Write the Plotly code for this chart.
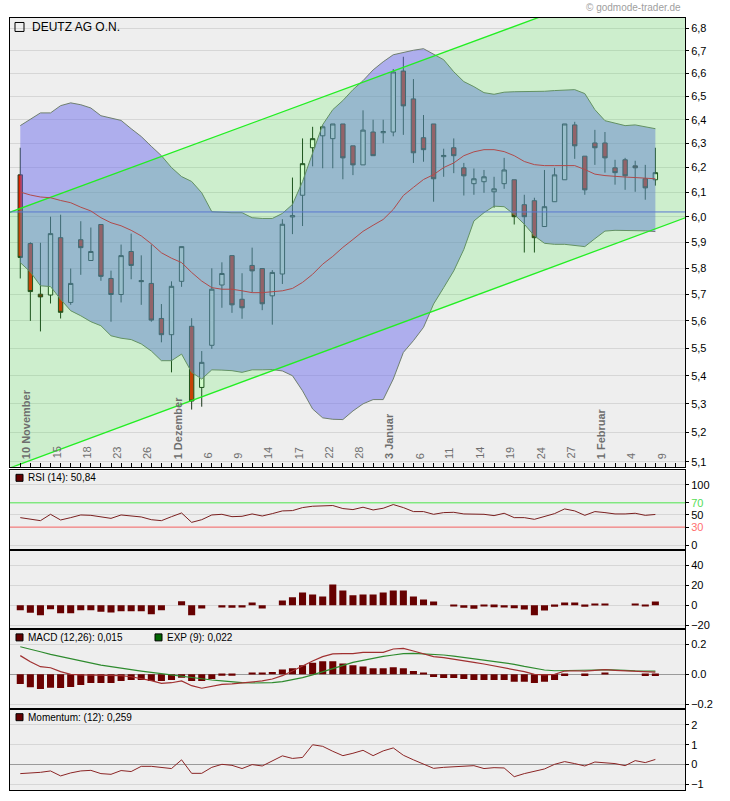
import math
import plotly.graph_objects as go

# ---------------- data ----------------
dates = ["2010-11-10", "2010-11-11", "2010-11-12", "2010-11-15", "2010-11-16", "2010-11-17", "2010-11-18",
         "2010-11-19", "2010-11-22", "2010-11-23", "2010-11-24", "2010-11-25", "2010-11-26", "2010-11-29",
         "2010-11-30", "2010-12-01", "2010-12-02", "2010-12-03", "2010-12-06", "2010-12-07", "2010-12-08",
         "2010-12-09", "2010-12-10", "2010-12-13", "2010-12-14", "2010-12-15", "2010-12-16", "2010-12-17",
         "2010-12-20", "2010-12-21", "2010-12-22", "2010-12-23", "2010-12-27", "2010-12-28", "2010-12-29",
         "2010-12-30", "2011-01-03", "2011-01-04", "2011-01-05", "2011-01-06", "2011-01-07", "2011-01-10",
         "2011-01-11", "2011-01-12", "2011-01-13", "2011-01-14", "2011-01-17", "2011-01-18", "2011-01-19",
         "2011-01-20", "2011-01-21", "2011-01-24", "2011-01-25", "2011-01-26", "2011-01-27", "2011-01-28",
         "2011-01-31", "2011-02-01", "2011-02-02", "2011-02-03", "2011-02-04", "2011-02-07", "2011-02-08",
         "2011-02-09"]

open_ = [6.170, 5.895, 5.700, 5.697, 5.918, 5.669, 5.910, 5.829, 5.970, 5.760, 5.699, 5.864, 5.752, 5.741,
         5.609, 5.549, 5.749, 5.580, 5.358, 5.510, 5.735, 5.848, 5.681, 5.810, 5.798, 5.694, 5.777, 6.000,
         6.087, 6.282, 6.332, 6.320, 6.382, 6.290, 6.211, 6.348, 6.345, 6.348, 6.610, 6.489, 6.324, 6.382,
         6.245, 6.282, 6.199, 6.134, 6.142, 6.101, 6.134, 6.150, 6.049, 6.065, 5.962, 6.061, 6.150, 6.378,
         6.247, 6.302, 6.302, 6.199, 6.232, 6.207, 6.154, 6.150]
high = [6.282, 5.900, 5.898, 6.001, 6.009, 5.798, 5.983, 5.958, 5.970, 5.790, 5.891, 5.934, 5.849, 5.891,
        5.663, 5.749, 5.883, 5.610, 5.489, 5.799, 5.822, 5.848, 5.780, 5.879, 5.798, 5.792, 5.991, 6.159,
        6.321, 6.370, 6.378, 6.382, 6.382, 6.290, 6.440, 6.400, 6.400, 6.619, 6.673, 6.575, 6.420, 6.382,
        6.278, 6.321, 6.219, 6.196, 6.190, 6.162, 6.240, 6.150, 6.089, 6.077, 6.190, 6.199, 6.382, 6.391,
        6.247, 6.357, 6.348, 6.232, 6.240, 6.228, 6.211, 6.282]
low = [5.760, 5.600, 5.561, 5.665, 5.609, 5.660, 5.774, 5.829, 5.751, 5.597, 5.669, 5.757, 5.660, 5.597,
       5.521, 5.412, 5.728, 5.280, 5.290, 5.497, 5.649, 5.630, 5.608, 5.707, 5.640, 5.586, 5.739, 5.932,
       5.964, 6.205, 6.197, 6.197, 6.152, 6.169, 6.211, 6.249, 6.301, 6.330, 6.336, 6.219, 6.224, 6.061,
       6.162, 6.177, 6.086, 6.089, 6.097, 6.037, 6.113, 5.970, 5.860, 5.860, 5.962, 6.061, 6.150, 6.236,
       6.089, 6.211, 6.179, 6.130, 6.109, 6.101, 6.069, 6.126]
close = [5.841, 5.710, 5.690, 5.934, 5.632, 5.741, 5.879, 5.864, 5.768, 5.699, 5.848, 5.810, 5.748, 5.603,
         5.549, 5.730, 5.883, 5.310, 5.448, 5.719, 5.779, 5.660, 5.649, 5.789, 5.664, 5.783, 5.971, 6.005,
         6.216, 6.320, 6.370, 6.382, 6.240, 6.211, 6.356, 6.249, 6.350, 6.606, 6.459, 6.261, 6.274, 6.154,
         6.250, 6.249, 6.166, 6.154, 6.162, 6.113, 6.190, 6.001, 6.001, 5.918, 6.041, 6.170, 6.382, 6.290,
         6.109, 6.282, 6.240, 6.179, 6.166, 6.199, 6.117, 6.179]

bb_upper = [6.375, 6.402, 6.429, 6.429, 6.460, 6.472, 6.464, 6.450, 6.417, 6.407, 6.397, 6.362, 6.329, 6.288,
            6.249, 6.200, 6.163, 6.143, 6.097, 6.021, 6.018, 6.017, 6.017, 5.997, 5.994, 5.994, 6.014, 6.050,
            6.143, 6.262, 6.379, 6.443, 6.482, 6.529, 6.568, 6.615, 6.651, 6.682, 6.693, 6.702, 6.709, 6.686,
            6.660, 6.607, 6.564, 6.542, 6.516, 6.509, 6.518, 6.520, 6.520, 6.520, 6.522, 6.525, 6.527, 6.529,
            6.512, 6.443, 6.396, 6.384, 6.375, 6.378, 6.371, 6.362]
bb_lower = [5.821, 5.785, 5.732, 5.729, 5.681, 5.638, 5.619, 5.597, 5.582, 5.545, 5.536, 5.531, 5.515, 5.489,
            5.454, 5.454, 5.478, 5.412, 5.388, 5.421, 5.420, 5.418, 5.412, 5.421, 5.421, 5.422, 5.417, 5.400,
            5.346, 5.282, 5.251, 5.246, 5.245, 5.275, 5.300, 5.315, 5.315, 5.388, 5.484, 5.527, 5.576, 5.663,
            5.725, 5.789, 5.872, 5.984, 6.017, 6.043, 6.041, 6.010, 5.971, 5.925, 5.896, 5.892, 5.892, 5.888,
            5.883, 5.914, 5.944, 5.947, 5.947, 5.947, 5.945, 5.942]
sma20 = [6.100, 6.088, 6.080, 6.077, 6.066, 6.057, 6.039, 6.024, 5.997, 5.977, 5.965, 5.947, 5.925, 5.894,
         5.859, 5.838, 5.821, 5.783, 5.750, 5.725, 5.719, 5.719, 5.713, 5.706, 5.706, 5.709, 5.713, 5.722,
         5.745, 5.776, 5.815, 5.845, 5.880, 5.911, 5.943, 5.967, 5.990, 6.030, 6.086, 6.119, 6.151, 6.171,
         6.200, 6.219, 6.249, 6.265, 6.274, 6.274, 6.266, 6.249, 6.225, 6.212, 6.208, 6.208, 6.208, 6.208,
         6.192, 6.173, 6.167, 6.163, 6.161, 6.159, 6.156, 6.154]

channel_idx = [-2, 67]
channel_upper = [6.004, 7.118]
channel_lower = [5.067, 6.012]
ref_level = 6.02

rsi = [45.6, 42.8, 40.6, 51.1, 41.7, 45.6, 50.0, 49.4, 47.2, 44.4, 50.0, 48.3, 46.7, 42.2, 40.6, 47.2,
       53.3, 37.8, 42.2, 50.0, 51.1, 47.2, 47.8, 51.7, 48.3, 52.2, 56.7, 57.2, 62.2, 64.4, 65.6, 65.6,
       60.6, 58.9, 62.8, 58.3, 61.1, 67.2, 62.2, 55.6, 55.6, 51.1, 53.9, 54.4, 51.7, 51.1, 51.1, 48.9,
       52.8, 45.6, 45.6, 42.8, 47.2, 52.2, 60.0, 56.7, 49.4, 55.6, 53.9, 51.7, 51.7, 52.8, 49.4, 50.84]
rsi_levels = [70, 30]

osc = [-5.0, -7.7, -10.0, -4.0, -8.0, -8.0, -5.0, -5.0, -6.7, -7.3, -6.0, -6.0, -6.0, -9.0, -5.0, 0.0,
       4.0, -10.0, -3.3, 0.0, -2.3, -2.7, -2.3, 2.7, -3.3, 0.0, 4.7, 8.0, 12.7, 10.7, 8.7, 20.7,
       14.7, 10.0, 10.7, 10.7, 12.7, 14.7, 14.7, 8.7, 5.7, 3.7, 0.0, -1.3, -2.7, -3.7, -1.3, -2.0,
       -2.3, -3.0, -4.3, -10.0, -5.3, -1.7, 2.7, 2.7, -1.7, 1.7, 1.7, 0.0, 0.0, 1.7, -1.0, 3.7]

macd = [0.125, 0.084, 0.051, 0.044, 0.018, 0.000, -0.004, -0.004, -0.004, -0.004, -0.009, -0.016, -0.027,
        -0.042, -0.060, -0.056, -0.044, -0.076, -0.093, -0.082, -0.067, -0.064, -0.056, -0.049, -0.044,
        -0.031, -0.009, 0.022, 0.058, 0.089, 0.118, 0.136, 0.138, 0.138, 0.147, 0.147, 0.147, 0.169, 0.173,
        0.156, 0.138, 0.118, 0.111, 0.102, 0.091, 0.080, 0.069, 0.056, 0.047, 0.029, 0.018, 0.000, -0.004,
        0.000, 0.022, 0.024, 0.022, 0.027, 0.031, 0.027, 0.024, 0.022, 0.018, 0.015]
signal = [0.184, 0.170, 0.151, 0.133, 0.118, 0.102, 0.089, 0.076, 0.062, 0.051, 0.040, 0.031, 0.022, 0.013,
          0.004, -0.004, -0.011, -0.018, -0.027, -0.038, -0.044, -0.051, -0.056, -0.058, -0.058, -0.056,
          -0.049, -0.038, -0.022, -0.004, 0.018, 0.040, 0.062, 0.080, 0.093, 0.107, 0.120, 0.129, 0.138,
          0.140, 0.138, 0.133, 0.129, 0.122, 0.113, 0.104, 0.096, 0.087, 0.078, 0.067, 0.053, 0.040, 0.029,
          0.024, 0.024, 0.024, 0.027, 0.029, 0.031, 0.031, 0.027, 0.024, 0.022, 0.022]
hist = [-0.064, -0.087, -0.098, -0.089, -0.091, -0.084, -0.071, -0.058, -0.058, -0.058, -0.044, -0.038,
        -0.038, -0.044, -0.044, -0.038, -0.022, -0.044, -0.044, -0.031, -0.009, -0.009, 0.0, 0.009, 0.009,
        0.016, 0.033, 0.040, 0.060, 0.078, 0.087, 0.087, 0.073, 0.060, 0.053, 0.040, 0.040, 0.047, 0.040,
        0.022, 0.009, -0.018, -0.024, -0.024, -0.031, -0.038, -0.038, -0.038, -0.038, -0.049, -0.049,
        -0.058, -0.049, -0.038, -0.011, 0.0, -0.011, 0.0, 0.011, 0.0, 0.0, 0.0, -0.011, -0.011]

momentum = [-0.455, -0.44, -0.39, -0.32, -0.57, -0.42, -0.32, -0.29, -0.455, -0.49, -0.30, -0.35, -0.088,
            -0.088, -0.138, -0.20, 0.24, -0.44, -0.44, -0.138, 0.013, -0.037, -0.20, 0.0, -0.07, 0.19, 0.44,
            0.31, 0.36, 1.0, 0.92, 0.67, 0.45, 0.57, 0.72, 0.45, 0.69, 0.84, 0.47, 0.24, 0.013, -0.19,
            -0.138, -0.12, -0.088, -0.054, -0.20, -0.155, -0.17, -0.61, -0.455, -0.34, -0.22, 0.013, 0.15,
            0.05, -0.07, 0.13, 0.08, 0.05, -0.054, 0.20, 0.10, 0.259]

label_idx = [0, 3, 6, 9, 12, 15, 18, 21, 24, 27, 30, 33, 36, 39, 42, 45, 48, 51, 54, 57, 60, 63]
label_text = ["<b>10 November</b>", "15", "18", "23", "26", "<b>1 Dezember</b>", "6", "9", "14", "17", "22",
              "28", "<b>3 Januar</b>", "6", "11", "14", "19", "24", "27", "<b>1 Februar</b>", "4", "9"]

price_ticks = [5.1, 5.2, 5.3, 5.4, 5.5, 5.6, 5.7, 5.8, 5.9, 6.0, 6.1, 6.2, 6.3, 6.4, 6.5, 6.6, 6.7, 6.8]
price_ticktext = [f"{v:.1f}".replace(".", ",") for v in price_ticks]

x = list(range(len(dates)))

# ---------------- layout helpers ----------------
W, H = 730, 801
L, R, T, B = 10, 685, 18, 792


def px(v):
    return (v - L) / (R - L)


def py(v):
    return (B - v) / (B - T)


FONT = "Liberation Sans, Arial, sans-serif"
BAND_LINE = "#6f7f6f"

fig = go.Figure()

# Bollinger band
fig.add_trace(go.Scatter(x=x, y=bb_upper, mode="lines", line=dict(color=BAND_LINE, width=1),
                         xaxis="x", yaxis="y"))
fig.add_trace(go.Scatter(x=x, y=bb_lower, mode="lines", line=dict(color=BAND_LINE, width=1),
                         fill="tonexty", fillcolor="rgba(110,110,235,0.5)", xaxis="x", yaxis="y"))
# trend channel
fig.add_trace(go.Scatter(x=channel_idx + channel_idx[::-1], y=channel_upper + channel_lower[::-1],
                         mode="lines", line=dict(width=0), fill="toself",
                         fillcolor="rgba(40,240,40,0.16)", xaxis="x", yaxis="y"))
for ch in (channel_upper, channel_lower):
    fig.add_trace(go.Scatter(x=channel_idx, y=ch, mode="lines", line=dict(color="#22ee22", width=1.3),
                             xaxis="x", yaxis="y"))
fig.add_trace(go.Scatter(x=channel_idx, y=[ref_level, ref_level], mode="lines",
                         line=dict(color="#5a78d0", width=1), xaxis="x", yaxis="y"))
fig.add_trace(go.Scatter(x=x, y=sma20, mode="lines", line=dict(color="#b04a4a", width=1),
                         xaxis="x", yaxis="y"))
fig.add_trace(go.Candlestick(x=x, open=open_, high=high, low=low, close=close,
                             increasing=dict(fillcolor="#f2ffea", line=dict(color="#1c361c", width=1)),
                             decreasing=dict(fillcolor="#e42200", line=dict(color="#1c361c", width=1)),
                             whiskerwidth=0, xaxis="x", yaxis="y"))

# RSI
fig.add_trace(go.Scatter(x=channel_idx, y=[rsi_levels[0]] * 2, mode="lines",
                         line=dict(color="#55ee55", width=1), xaxis="x2", yaxis="y2"))
fig.add_trace(go.Scatter(x=channel_idx, y=[rsi_levels[1]] * 2, mode="lines",
                         line=dict(color="#ff6a6a", width=1), xaxis="x2", yaxis="y2"))
fig.add_trace(go.Scatter(x=x, y=rsi, mode="lines", line=dict(color="#7a1f1f", width=1),
                         xaxis="x2", yaxis="y2"))
# oscillator bars
fig.add_trace(go.Bar(x=x, y=osc, width=0.7, marker=dict(color="#660000", line=dict(width=0)),
                     xaxis="x3", yaxis="y3"))
# MACD
fig.add_trace(go.Bar(x=x, y=hist, width=0.7, marker=dict(color="#6b0000", line=dict(width=0)),
                     xaxis="x4", yaxis="y4"))
fig.add_trace(go.Scatter(x=x, y=signal, mode="lines", line=dict(color="#2e8b2e", width=1.2),
                         xaxis="x4", yaxis="y4"))
fig.add_trace(go.Scatter(x=x, y=macd, mode="lines", line=dict(color="#a03030", width=1.2),
                         xaxis="x4", yaxis="y4"))
# Momentum
fig.add_trace(go.Scatter(x=x, y=momentum, mode="lines", line=dict(color="#8b2525", width=1),
                         xaxis="x5", yaxis="y5"))

xr = [-1.02, 65.94]
common_x = dict(range=xr, showline=True, linecolor="black", linewidth=1, mirror=True, showgrid=False,
                zeroline=False, fixedrange=True)
common_y = dict(side="right", showline=True, linecolor="black", linewidth=1, mirror=True,
                ticks="outside", ticklen=3, tickcolor="black", gridcolor="#d6d6d6", gridwidth=1,
                tickfont=dict(family=FONT, size=11, color="black"), fixedrange=True)

d_main = [py(468), 1]
d_rsi = [py(551), py(471.5)]
d_osc = [py(631), py(551)]
d_macd = [py(711), py(631)]
d_mom = [0, py(711)]

layout = dict(
    width=W, height=H, margin=dict(l=L, r=W - R, t=T, b=H - B, pad=0),
    paper_bgcolor="white", plot_bgcolor="#eeeeee", showlegend=False, hovermode=False,
    font=dict(family=FONT, size=11, color="black"), bargap=0.3, boxgap=0.38,
    xaxis=dict(**common_x, anchor="y", domain=[0, 1], ticks="inside", ticklen=4, tickcolor="black",
               tickmode="linear", tick0=0, dtick=1, showticklabels=False, rangeslider=dict(visible=False)),
    xaxis2=dict(**common_x, anchor="y2", matches="x", showticklabels=False, ticks=""),
    xaxis3=dict(**common_x, anchor="y3", matches="x", showticklabels=False, ticks=""),
    xaxis4=dict(**common_x, anchor="y4", matches="x", showticklabels=False, ticks=""),
    xaxis5=dict(**common_x, anchor="y5", matches="x", showticklabels=False, ticks=""),
    yaxis=dict(**common_y, anchor="x", domain=d_main, type="log",
               range=[math.log10(5.083), math.log10(6.847)], tickvals=price_ticks,
               ticktext=price_ticktext, zeroline=False),
    yaxis2=dict(**common_y, anchor="x2", domain=d_rsi, range=[-7.2, 123.7], tickvals=[0, 30, 50, 70, 100],
                ticktext=["0", "<span style='color:#ff7070'>30</span>", "50",
                          "<span style='color:#55dd55'>70</span>", "100"], zeroline=False),
    yaxis3=dict(**common_y, anchor="x3", domain=d_osc, range=[-24.3, 55.7], tickvals=[-20, 0, 20, 40],
                ticktext=["\u221220", "0", "20", "40"], zeroline=False),
    yaxis4=dict(**common_y, anchor="x4", domain=d_macd, range=[-0.233, 0.30], tickvals=[-0.2, 0, 0.2],
                ticktext=["\u22120.2", "0.0", "0.2"], zeroline=True, zerolinecolor="#9a9a9a",
                zerolinewidth=1),
    yaxis5=dict(**common_y, anchor="x5", domain=d_mom, range=[-1.28, 2.79], tickvals=[-1, 0, 1, 2],
                ticktext=["\u22121", "0", "1", "2"], zeroline=True, zerolinecolor="#9a9a9a",
                zerolinewidth=1),
)
fig.update_layout(**layout)

annotations = []
for idx, txt in zip(label_idx, label_text):
    annotations.append(dict(x=idx, xref="x", y=py(462), yref="paper", text=txt, showarrow=False,
                            textangle=-90, xanchor="center", yanchor="bottom", xshift=6,
                            font=dict(family=FONT, size=11, color="#6e6e6e")))


def label(xp, yp, text, size=10):
    return dict(x=px(xp), y=py(yp), xref="paper", yref="paper", text=text, showarrow=False,
                xanchor="left", yanchor="middle", font=dict(family=FONT, size=size, color="black"))


annotations.append(label(29.5, 27, "DEUTZ AG O.N.", 12))
annotations.append(label(26, 479, "RSI (14): 50,84"))
annotations.append(label(26, 639, "MACD (12,26): 0,015"))
annotations.append(label(165, 639, "EXP (9): 0,022"))
annotations.append(label(26, 719, "Momentum: (12): 0,259"))
annotations.append(dict(x=px(683), y=py(7), xref="paper", yref="paper", text="\u00a9 godmode-trader.de",
                        showarrow=False, xanchor="right", yanchor="middle",
                        font=dict(family=FONT, size=10, color="#a0a0a0")))
fig.update_layout(annotations=annotations)


def square(x0, y0, size, fill):
    return dict(type="rect", xref="paper", yref="paper", x0=px(x0), x1=px(x0 + size), y0=py(y0 + size),
                y1=py(y0), fillcolor=fill, line=dict(color="black", width=1), layer="above")


shapes = [square(15, 22.5, 9, "rgba(0,0,0,0)"), square(16, 475.5, 7, "#660000"),
          square(16, 635.5, 7, "#660000"), square(155, 635.5, 7, "#006600"),
          square(16, 715.5, 7, "#660000")]
fig.update_layout(shapes=shapes)

fig.write_html("out.html", config={"displayModeBar": False},
               post_script="document.body.style.margin='0px';document.body.style.overflow='hidden';")
